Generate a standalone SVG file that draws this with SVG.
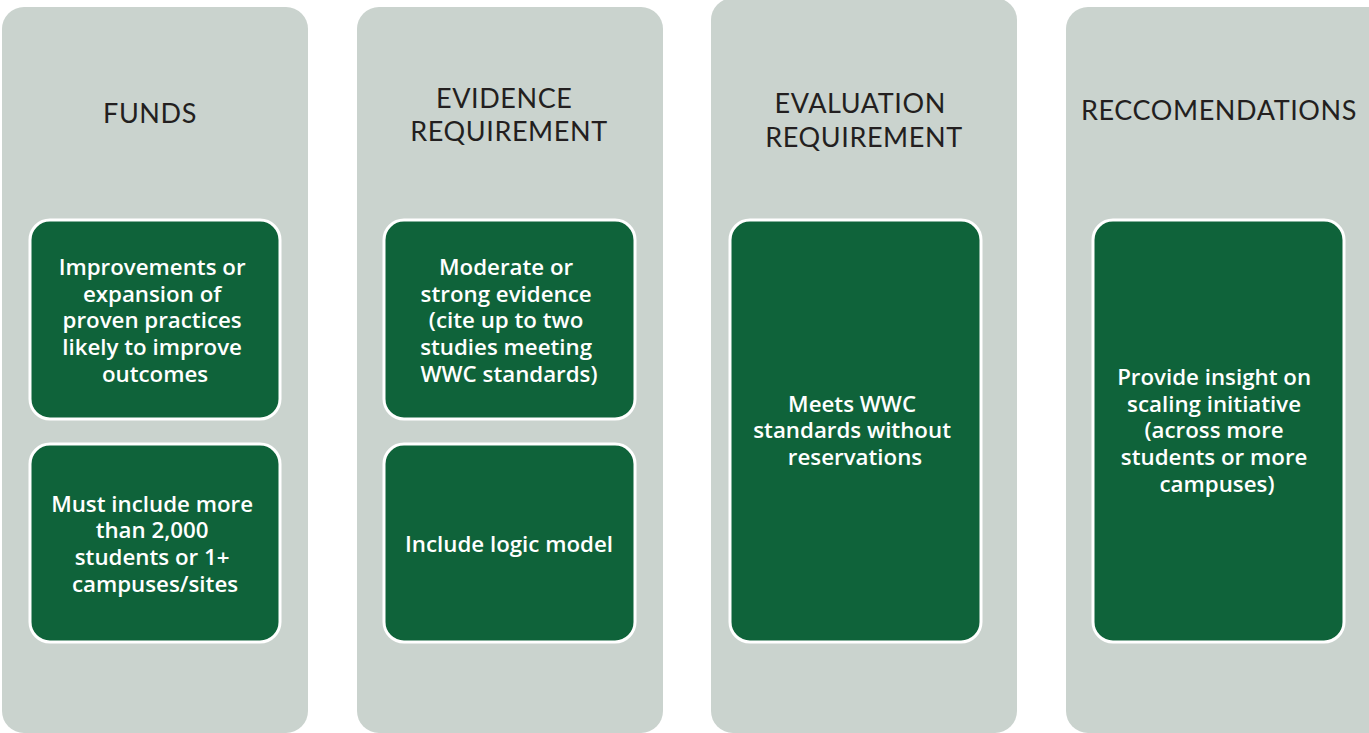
<svg xmlns="http://www.w3.org/2000/svg" width="1369" height="733" viewBox="0 0 1369 733">
  <style>
    .col { fill: #cad3ce; }
    .box { fill: #0f633a; stroke: #ffffff; stroke-width: 3; }
    .head { font-family: Lato, "Noto Sans", sans-serif; font-size: 27px; fill: #231f20; text-anchor: middle; letter-spacing: 0.6px; }
    .body { font-family: "Open Sans", "Noto Sans", sans-serif; font-weight: 600; font-size: 22.3px; fill: #ffffff; text-anchor: middle; }
  </style>
  <rect width="1369" height="733" fill="#ffffff"/>

  <!-- Column 1: FUNDS -->
  <g id="funds">
    <rect class="col" x="2" y="7" width="306" height="726" rx="22"/>
    <text class="head" x="150" y="123">FUNDS</text>
  </g>
  <g id="funds-practices">
    <rect class="box" x="30" y="220" width="250" height="199" rx="20"/>
    <text class="body">
      <tspan x="155" y="275">Improvements or</tspan>
      <tspan x="155" y="302">expansion of</tspan>
      <tspan x="155" y="328">proven practices</tspan>
      <tspan x="155" y="355">likely to improve</tspan>
      <tspan x="155" y="382">outcomes</tspan>
    </text>
  </g>
  <g id="funds-scale">
    <rect class="box" x="30" y="444" width="250" height="198" rx="20"/>
    <text class="body">
      <tspan x="155" y="512">Must include more</tspan>
      <tspan x="155" y="538">than 2,000</tspan>
      <tspan x="155" y="565">students or 1+</tspan>
      <tspan x="155" y="592">campuses/sites</tspan>
    </text>
  </g>

  <!-- Column 2: EVIDENCE REQUIREMENT -->
  <g id="evidence">
    <rect class="col" x="357" y="7" width="306" height="726" rx="22"/>
    <text class="head">
      <tspan x="508" y="108">EVIDENCE</tspan>
      <tspan x="509" y="141">REQUIREMENT</tspan>
    </text>
  </g>
  <g id="evidence-studies">
    <rect class="box" x="384" y="220" width="251" height="199" rx="20"/>
    <text class="body">
      <tspan x="509" y="275">Moderate or</tspan>
      <tspan x="509" y="302">strong evidence</tspan>
      <tspan x="509" y="328">(cite up to two</tspan>
      <tspan x="509" y="355">studies meeting</tspan>
      <tspan x="509" y="382">WWC standards)</tspan>
    </text>
  </g>
  <g id="evidence-logic">
    <rect class="box" x="384" y="444" width="251" height="198" rx="20"/>
    <text class="body" x="509" y="552">Include logic model</text>
  </g>

  <!-- Column 3: EVALUATION REQUIREMENT -->
  <g id="evaluation">
    <rect class="col" x="711" y="-2" width="306" height="735" rx="22"/>
    <text class="head">
      <tspan x="864" y="113">EVALUATION</tspan>
      <tspan x="864" y="147">REQUIREMENT</tspan>
    </text>
  </g>
  <g id="evaluation-wwc">
    <rect class="box" x="730" y="220" width="251" height="422" rx="20"/>
    <text class="body">
      <tspan x="855" y="412">Meets WWC</tspan>
      <tspan x="855" y="438">standards without</tspan>
      <tspan x="855" y="465">reservations</tspan>
    </text>
  </g>

  <!-- Column 4: RECCOMENDATIONS -->
  <g id="recommendations">
    <rect class="col" x="1066" y="7" width="326" height="726" rx="22"/>
    <text class="head" x="1219" y="120">RECCOMENDATIONS</text>
  </g>
  <g id="recommendations-scaling">
    <rect class="box" x="1093" y="220" width="251" height="422" rx="20"/>
    <text class="body">
      <tspan x="1217" y="385">Provide insight on</tspan>
      <tspan x="1217" y="412">scaling initiative</tspan>
      <tspan x="1217" y="438">(across more</tspan>
      <tspan x="1217" y="465">students or more</tspan>
      <tspan x="1217" y="492">campuses)</tspan>
    </text>
  </g>

  <!-- no connectors in this layout -->
  <g id="connectors"/>
</svg>
